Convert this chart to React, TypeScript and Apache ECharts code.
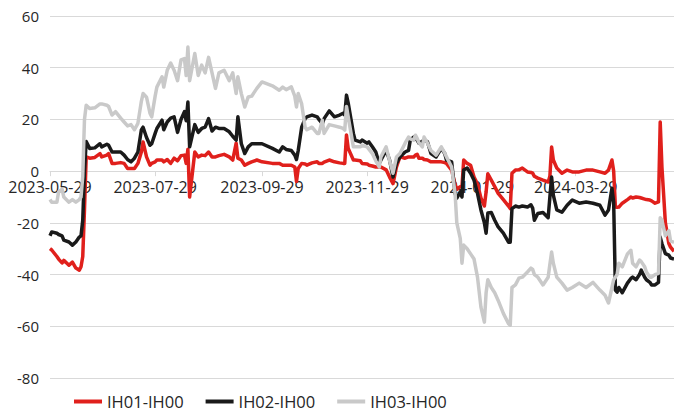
import { useEffect, useRef } from 'react';
import * as echarts from 'echarts';

const SERIES_NAMES = ['IH01-IH00', 'IH02-IH00', 'IH03-IH00'];
const COLORS = ['#e0201c', '#1a1a1a', '#c9c9c9'];
const LABEL_DATES = ['2023-05-29', '2023-07-29', '2023-09-29', '2023-11-29', '2024-01-29', '2024-03-29'];
const Y_TICKS = [-80, -60, -40, -20, 0, 20, 40, 60];
const START_DATE = '2023-05-29';
const DAY_COUNT = 363;

const dates = [
  '2023-05-29', '2023-05-30', '2023-06-02', '2023-06-03', '2023-06-05', '2023-06-06', '2023-06-09', '2023-06-11',
  '2023-06-13', '2023-06-15', '2023-06-16', '2023-06-17', '2023-06-18', '2023-06-19', '2023-06-21', '2023-06-24',
  '2023-06-27', '2023-06-28', '2023-07-01', '2023-07-02', '2023-07-04', '2023-07-06', '2023-07-09', '2023-07-11',
  '2023-07-13', '2023-07-15', '2023-07-17', '2023-07-19', '2023-07-21', '2023-07-22', '2023-07-24', '2023-07-26',
  '2023-07-27', '2023-07-29', '2023-07-30', '2023-08-02', '2023-08-03', '2023-08-05', '2023-08-07', '2023-08-09',
  '2023-08-11', '2023-08-13', '2023-08-15', '2023-08-16', '2023-08-17', '2023-08-18', '2023-08-21', '2023-08-23',
  '2023-08-25', '2023-08-27', '2023-08-29', '2023-08-31', '2023-09-02', '2023-09-04', '2023-09-07', '2023-09-10',
  '2023-09-12', '2023-09-14', '2023-09-15', '2023-09-17', '2023-09-19', '2023-09-21', '2023-09-23', '2023-09-26',
  '2023-09-29', '2023-10-05', '2023-10-09', '2023-10-11', '2023-10-13', '2023-10-16', '2023-10-18', '2023-10-19',
  '2023-10-20', '2023-10-22', '2023-10-24', '2023-10-25', '2023-10-28', '2023-10-31', '2023-11-01', '2023-11-03',
  '2023-11-04', '2023-11-07', '2023-11-10', '2023-11-13', '2023-11-15', '2023-11-16', '2023-11-17', '2023-11-18',
  '2023-11-21', '2023-11-22', '2023-11-25', '2023-11-26', '2023-11-29', '2023-11-30', '2023-12-02', '2023-12-04',
  '2023-12-06', '2023-12-07', '2023-12-10', '2023-12-12', '2023-12-14', '2023-12-16', '2023-12-18', '2023-12-21',
  '2023-12-23', '2023-12-24', '2023-12-26', '2023-12-27', '2023-12-28', '2023-12-29', '2023-12-31', '2024-01-01',
  '2024-01-03', '2024-01-05', '2024-01-08', '2024-01-11', '2024-01-13', '2024-01-14', '2024-01-17', '2024-01-19',
  '2024-01-20', '2024-01-22', '2024-01-23', '2024-01-24', '2024-01-26', '2024-01-28', '2024-01-30', '2024-02-01',
  '2024-02-03', '2024-02-05', '2024-02-06', '2024-02-07', '2024-02-09', '2024-02-11', '2024-02-13', '2024-02-16',
  '2024-02-19', '2024-02-20', '2024-02-21', '2024-02-23', '2024-02-25', '2024-02-27', '2024-03-01', '2024-03-03',
  '2024-03-04', '2024-03-05', '2024-03-07', '2024-03-10', '2024-03-13', '2024-03-14', '2024-03-15', '2024-03-16',
  '2024-03-18', '2024-03-21', '2024-03-24', '2024-03-27', '2024-03-31', '2024-04-04', '2024-04-08', '2024-04-12',
  '2024-04-15', '2024-04-17', '2024-04-19', '2024-04-20', '2024-04-21', '2024-04-22', '2024-04-23', '2024-04-25',
  '2024-04-28', '2024-04-30', '2024-05-01', '2024-05-03', '2024-05-05', '2024-05-06', '2024-05-08', '2024-05-09',
  '2024-05-11', '2024-05-12', '2024-05-14', '2024-05-16', '2024-05-17', '2024-05-18', '2024-05-20', '2024-05-22',
  '2024-05-23', '2024-05-25',
];

const ih01 = [
  -30, -30.5, -33, -34, -35.5, -34.5, -36.4, -35.2,
  -37.5, -38.3, -37, -33, -15, 5.5, 5, 5.3,
  6.8, 5.5, 6.2, 6.8, 3, 3, 3.3, 3,
  1, 1, 1, 3, 7.4, 11.3, 5.5, 2.3,
  3, 3.6, 4.3, 4.3, 3.6, 4.5, 3, 5,
  4, 6, 6.2, 3, 8.5, -10, 7.4, 5.5,
  6.2, 6, 7.4, 5.5, 5.5, 6, 6.5, 5.5,
  4.3, 10.8, 5, 4.3, 2.3, 3, 3.6, 4.3,
  3.6, 3, 3, 2.3, 2.3, 2.3, 1.6, -4,
  1, 3, 2.8, 2.3, 3.2, 3.6, 3, 3,
  3.5, 4.3, 3.6, 3.2, 3, 3, 14, 8.8,
  4.3, 4.3, 4, 3, 2.8, 2.3, 2, 1.6,
  1.6, 1.6, 0.5, -2.3, -4.8, 1.6, 5.5, 5,
  5.5, 5.5, 5.5, 6.2, 6.5, 5, 5, 4.5,
  4.3, 3.6, 3.6, 3.6, 3.3, 3, 0.4, -5,
  -7, -6, -6, 4.3, 3, 2.3, -2.3, -5,
  -10.4, -13.5, -8, -1, -3.5, -6, -8.6, -11,
  -13.5, -14.5, -0.8, 0.4, 0.5, 1.2, -0.3, -0.5,
  -0.8, -2, -2.7, -3.5, -4.2, -2, 9.3, 4.3,
  1.2, -0.8, 0.4, -0.3, -0.3, 0.4, 0.4, -0.3,
  -0.8, 0.4, 4.3, 0, -13.9, -14, -13.9, -12.4,
  -11, -10, -10.4, -10, -10.2, -10.4, -10.8, -11,
  -11.2, -11.5, -12.4, -11.9, 19, 1.6, -20, -28,
  -29.4, -31,
];

const ih02 = [
  -25, -23.5, -24, -24.5, -25, -26.7, -27.4, -28.6,
  -27.4, -25.5, -25, -19, 0, 11.5, 8.8, 9,
  10.6, 9.4, 10.4, 10, 7.4, 7.4, 7.4, 6.2,
  4.5, 3.6, 5, 7.4, 15.9, 17, 13, 10,
  10.6, 14.6, 16.5, 19.7, 16, 19, 20.5, 21,
  15, 20, 23, 19.5, 26.7, 9.4, 18, 15,
  16.5, 17, 20.3, 15.5, 17, 16.5, 16.5, 15.2,
  13.5, 12, 21, 10.6, 6.8, 9.4, 10.6, 10.6,
  10.6, 8.8, 7.4, 9.4, 8.4, 8, 6.2, 4.5,
  8, 17, 20.3, 21, 21.7, 21, 20, 18.4,
  20.3, 23.3, 21, 21.7, 22.4, 21.7, 29.4, 26.3,
  14.6, 12, 11.3, 12, 10.8, 11.3, 9.4, 7.4,
  3, 4.3, 8, 4.3, -2.3, 3, 5.5, 7.4,
  8, 12, 13.2, 12.5, 12, 10.8, 11.5, 12,
  11.3, 6.8, 5.5, 8.8, 6.8, 4.3, 3.6, -8.6,
  -10.4, -8, -10, 0.4, 1.2, -0.8, -3.5, -8.6,
  -15, -20, -24, -16.2, -16, -19, -21.6, -24,
  -27.5, -27.5, -14.5, -13.5, -13.9, -13.5, -13.9, -13,
  -14.3, -19, -16.4, -16, -18, -10, -2.3, -9.3,
  -15, -15.9, -13.2, -11.2, -12.4, -11.9, -12.4, -13.2,
  -17, -15, -6.6, -12, -46, -46.8, -45, -47,
  -43.3, -41.5, -41, -42, -40, -38.3, -41, -42,
  -43, -44, -44, -43, -25.5, -28, -31.9, -32.5,
  -33.6, -34,
];

const ih03 = [
  -11, -12, -12, -8, -7, -10, -12, -11,
  -12, -11, -10, -2, 20, 25.5, 24.2, 24.5,
  26, 26, 25.5, 25, 21.7, 23, 20.5, 19,
  17.5, 18, 16, 18.5, 27, 30, 28.6, 22.4,
  21, 29, 32.5, 36.5, 32.5, 39, 41.8, 39,
  35, 43, 43.5, 37, 48, 35, 45.5, 37,
  41, 38, 44, 38, 32, 38, 39, 35,
  38, 30, 36.5, 30, 24.8, 28.7, 29, 32,
  34.5, 33, 31.3, 32.5, 31.5, 32.6, 29, 24.8,
  30, 26, 17, 16, 17, 14.6, 14.6, 19.7,
  14.6, 18, 17.5, 17, 16.5, 15.9, 25, 21,
  9.4, 9.4, 9.4, 10, 9.4, 8.5, 6.8, 4,
  1.6, 5.5, 9.4, 4, -0.8, 5.5, 6.8, 10.8,
  13.2, 12.5, 12, 13.9, 12.7, 11, 9.4, 13.2,
  10.8, 8, 6.2, 9.4, 7, 5.5, 1.6, -8.6,
  -20, -26, -35.6, -28.6, -30, -32, -34, -41,
  -52.6, -58.4, -47, -42, -45, -47, -50, -55,
  -59, -59.6, -45, -44, -41.4, -41, -39, -37.5,
  -38, -40, -41, -44, -41, -36, -31.3, -35.6,
  -41, -43.3, -46, -45, -43.3, -45, -43, -46,
  -48, -51, -45, -42, -41, -40, -35.6, -37,
  -32, -30.6, -35.6, -37, -34.4, -35, -37, -39,
  -41, -41, -40, -39.5, -18, -19, -25, -23,
  -27, -27.5,
];

const SERIES_VALUES = [ih01, ih02, ih03];

function buildCategories(): string[] {
  const [y, m, d] = START_DATE.split('-').map(Number);
  const base = Date.UTC(y, m - 1, d);
  const out: string[] = [];
  for (let i = 0; i < DAY_COUNT; i++) {
    out.push(new Date(base + i * 86400000).toISOString().slice(0, 10));
  }
  return out;
}

const FONT = '"Open Sans", "Noto Sans", sans-serif';
const CHART_H = 412;
const GRID_TOP = 16;
const GRID_BOTTOM = 34;

export default function App() {
  const ref = useRef<HTMLDivElement>(null);

  useEffect(() => {
    if (!ref.current) return;
    const chart = echarts.init(ref.current, undefined, { renderer: 'svg' });
    const categories = buildCategories();
    const labelSet = new Set(LABEL_DATES);
    const showLabel = (_i: number, v: string) => labelSet.has(v);

    // distance from the grid's bottom edge up to the y = 0 line
    const yMin = Y_TICKS[0];
    const yMax = Y_TICKS[Y_TICKS.length - 1];
    const plotH = CHART_H - GRID_TOP - GRID_BOTTOM;
    const zeroOffset = (plotH * (0 - yMin)) / (yMax - yMin);

    chart.setOption({
      animation: false,
      backgroundColor: '#ffffff',
      textStyle: { fontFamily: FONT },
      grid: { left: 50, right: 0, top: GRID_TOP, bottom: GRID_BOTTOM, containLabel: false },
      legend: {
        data: SERIES_NAMES,
        left: 69,
        top: 388,
        icon: 'rect',
        itemWidth: 28,
        itemHeight: 4,
        itemGap: 22,
        textStyle: { fontSize: 16.5, color: '#262626', fontFamily: FONT },
      },
      xAxis: {
        type: 'category',
        data: categories,
        boundaryGap: false,
        position: 'bottom',
        offset: -zeroOffset,
        axisLine: { onZero: false, lineStyle: { color: '#d9d9d9', width: 1 } },
        axisTick: { show: true, interval: showLabel, length: 5, lineStyle: { color: '#d9d9d9' } },
        axisLabel: {
          interval: showLabel,
          fontSize: 16,
          color: '#262626',
          margin: 8,
          fontFamily: FONT,
          hideOverlap: false,
        },
        splitLine: { show: false },
      },
      yAxis: {
        type: 'value',
        min: yMin,
        max: yMax,
        interval: 20,
        axisLine: { show: false },
        axisTick: { show: false },
        axisLabel: { fontSize: 15, color: '#262626', margin: 11, fontFamily: FONT },
        splitLine: { lineStyle: { color: '#d9d9d9', width: 1 } },
      },
      series: SERIES_NAMES.map((name, si) => ({
        name,
        type: 'line',
        data: dates.map((d, i) => [d, SERIES_VALUES[si][i]]),
        showSymbol: false,
        symbol: 'none',
        smooth: false,
        color: COLORS[si],
        lineStyle: { color: COLORS[si], width: 3.5, join: 'round' },
        z: 2 + si,
      })),
    });

    return () => chart.dispose();
  }, []);

  return <div ref={ref} style={{ width: 674, height: CHART_H, position: 'absolute', left: 0, top: 0 }} />;
}
